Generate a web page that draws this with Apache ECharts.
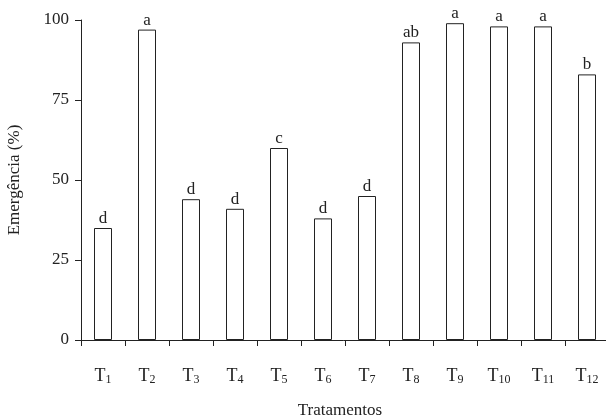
<!DOCTYPE html>
<html>
<head>
  <meta charset="utf-8" />
  <script src="https://cdn.jsdelivr.net/npm/echarts@6/dist/echarts.min.js"></script>
  <style>body{margin:0}#chart{width:606px;height:419px}</style>
</head>
<body>
  <div id="chart"></div>
  <script type="text/javascript">
    const categories = ["1", "2", "3", "4", "5", "6", "7", "8", "9", "10", "11", "12"];
    const values = [35, 97, 44, 41, 60, 38, 45, 93, 99, 98, 98, 83];
    const letters = ["d", "a", "d", "d", "c", "d", "d", "ab", "a", "a", "a", "b"];
    const yTicks = [0, 25, 50, 75, 100];

    const chart = echarts.init(document.getElementById("chart"));
    const font = "'Liberation Serif', 'DejaVu Serif', serif";

    var option = {
      animation: false,
      backgroundColor: "#fff",
      textStyle: { fontFamily: font, color: "#222" },
      grid: { left: 81, right: -3, top: 20, bottom: 79, outerBoundsMode: "none", containLabel: false },
      xAxis: {
        type: "category",
        data: categories,
        name: "Tratamentos",
        nameLocation: "middle",
        nameGap: 62,
        nameTextStyle: { fontFamily: font, fontSize: 17, color: "#222", padding: [0, 0, 0, -10] },
        axisLine: { lineStyle: { color: "#222" } },
        axisTick: { show: true, interval: 0, length: 6, lineStyle: { color: "#222" } },
        axisLabel: {
          interval: 0,
          margin: 26,
          formatter: v => "{t|T}{s|" + v + "}",
          rich: {
            t: { fontFamily: font, fontSize: 18, color: "#222" },
            s: { fontFamily: font, fontSize: 12, color: "#222", verticalAlign: "bottom", padding: [8, 0, 0, 0] }
          }
        }
      },
      yAxis: {
        type: "value",
        min: 0, max: 100, interval: 25,
        name: "Emergência (%)",
        nameLocation: "middle",
        nameGap: 58,
        nameTextStyle: { fontFamily: font, fontSize: 17, color: "#222" },
        splitLine: { show: false },
        axisLine: { show: true, lineStyle: { color: "#222" } },
        axisTick: { show: true, length: 6, lineStyle: { color: "#222" } },
        axisLabel: {
          margin: 12,
          fontFamily: font, fontSize: 17, color: "#222",
          formatter: v => yTicks.includes(v) ? String(v) : ""
        }
      },
      series: [{
        type: "bar",
        data: values,
        barWidth: 18,
        itemStyle: { color: "#fff", borderColor: "#222", borderWidth: 1 },
        label: {
          show: true, position: "top", distance: 1,
          fontFamily: font, fontSize: 17, color: "#222",
          formatter: p => letters[p.dataIndex]
        }
      }]
    };

    chart.setOption(option);
  </script>
</body>
</html>
